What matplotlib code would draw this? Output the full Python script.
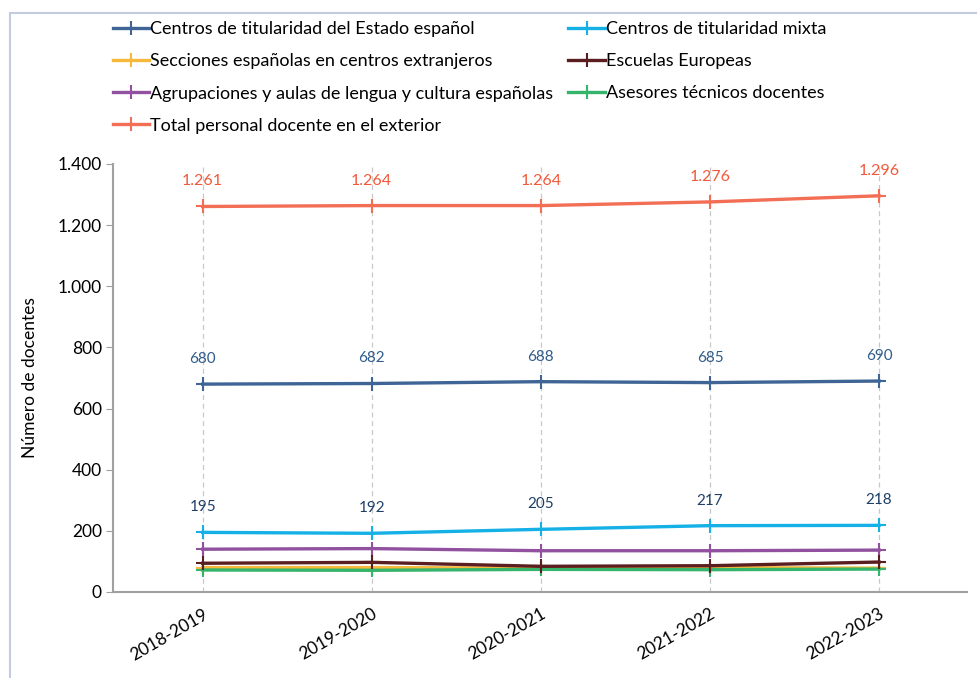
import numpy as np
import matplotlib as mpl
import matplotlib.pyplot as plt
from matplotlib.patches import Rectangle
from matplotlib.ticker import FuncFormatter

plt.rcParams['font.family'] = ['Lato', 'DejaVu Sans']

cursos = ['2018-2019', '2019-2020', '2020-2021', '2021-2022', '2022-2023']

estado = [680, 682, 688, 685, 690]
mixta = [195, 192, 205, 217, 218]
secciones = [80, 80, 78, 80, 78]
europeas = [94, 97, 84, 86, 98]
agrupaciones = [140, 142, 135, 135, 137]
asesores = [72, 71, 74, 73, 75]
total = [1261, 1264, 1264, 1276, 1296]

nombres = ['Centros de titularidad del Estado español',
           'Centros de titularidad mixta',
           'Secciones españolas en centros extranjeros',
           'Escuelas Europeas',
           'Agrupaciones y aulas de lengua y cultura españolas',
           'Asesores técnicos docentes',
           'Total personal docente en el exterior']
series = [estado, mixta, secciones, europeas, agrupaciones, asesores, total]
colores = ['#3e6596', '#14b0e6', '#f6b93b', '#5a1e20', '#91519f', '#35b46c', '#f26e55']


def miles(v, pos=None):
    return f'{int(v):,}'.replace(',', '.')


def main():
    fig = plt.figure(figsize=(9.77, 6.78), dpi=100)
    ax = fig.add_axes([113 / 977, 1 - 592 / 678, (967 - 113) / 977, (592 - 164) / 678])

    # marco del grafico
    fig.patches.append(Rectangle((10 / 977, -0.1), 1.2, 1 - 13 / 678 + 0.1,
                                 transform=fig.transFigure, fill=False,
                                 edgecolor='#c3cbe0', linewidth=1.5))

    x = np.arange(len(cursos))
    for xi in x:
        ax.axvline(xi, color='#c8c8c8', linestyle=(0, (4, 3)), linewidth=0.9, zorder=0)

    # orden de dibujo: las de abajo primero
    orden = [6, 0, 1, 4, 2, 5, 3]
    lineas = {}
    for i in orden:
        ln, = ax.plot(x, series[i], color=colores[i], linewidth=2.4, marker='+',
                      markersize=10, markeredgewidth=1.5, label=nombres[i], zorder=3)
        lineas[i] = ln

    for xi, v in zip(x, total):
        ax.annotate(miles(v), (xi, v), xytext=(0, 13), textcoords='offset points',
                    ha='center', va='bottom', color='#f2583a', fontsize=11.5)
    for xi, v in zip(x, estado):
        ax.annotate(miles(v), (xi, v), xytext=(0, 13), textcoords='offset points',
                    ha='center', va='bottom', color='#2f5b8c', fontsize=11)
    for xi, v in zip(x, mixta):
        ax.annotate(miles(v), (xi, v), xytext=(0, 13), textcoords='offset points',
                    ha='center', va='bottom', color='#1f3f66', fontsize=11)

    ax.set_xlim(-0.53, 4.52)
    ax.set_ylim(0, 1400)
    ax.set_yticks(np.arange(0, 1401, 200))
    ax.yaxis.set_major_formatter(FuncFormatter(miles))
    ax.set_xticks(x)
    ax.set_xticklabels(cursos, rotation=30, ha='right', rotation_mode='anchor', fontsize=12.5)
    ax.tick_params(axis='x', length=0, pad=10)
    ax.tick_params(axis='y', labelsize=12.5, length=5, color='#a0a0a0', pad=3)
    for s in ['top', 'right']:
        ax.spines[s].set_visible(False)
    for s in ['left', 'bottom']:
        ax.spines[s].set_color('#a0a0a0')
        ax.spines[s].set_linewidth(1.5)
    ax.set_ylabel('Número de docentes', fontsize=12.5, labelpad=14)

    # leyenda en dos columnas
    orden_leg = [0, 2, 4, 6, 1, 3, 5]
    fig.legend([lineas[i] for i in orden_leg], [nombres[i] for i in orden_leg],
               loc='upper left', bbox_to_anchor=(113 / 977, 1 - 21 / 678), ncol=2,
               frameon=False, fontsize=13, handlelength=2.0, handletextpad=0.05,
               columnspacing=0.85, labelspacing=0.9, borderpad=0, borderaxespad=0)

    fig.savefig('out.png', dpi=100)


if __name__ == "__main__":
    main()
